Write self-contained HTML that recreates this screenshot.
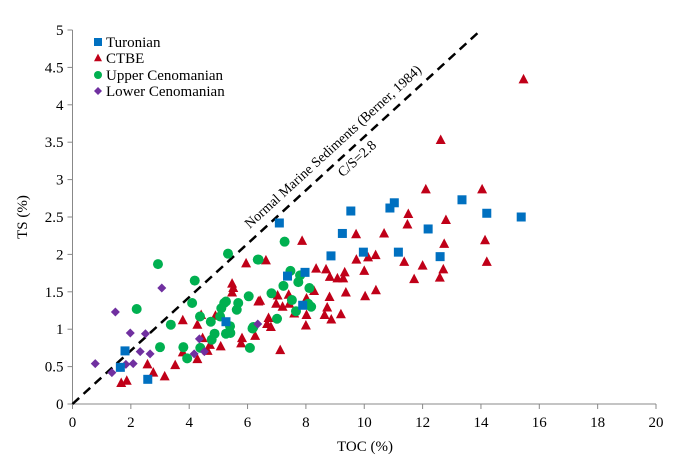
<!DOCTYPE html>
<html><head><meta charset="utf-8"><style>
body{margin:0;background:#fff}
svg{display:block}
svg text{font-family:"Liberation Serif","Times New Roman","DejaVu Serif",serif}
</style></head><body>
<svg id="chart" width="682" height="464"></svg>
<script>
const turonianX=[1.64,1.8,2.58,5.26,7.09,7.37,7.97,7.89,8.86,9.25,9.54,9.97,10.88,11.03,11.17,12.19,12.6,13.35,14.2,15.38];
const turonianY=[0.49,0.71,0.33,1.1,2.42,1.71,1.76,1.32,1.98,2.28,2.58,2.03,2.62,2.69,2.03,2.34,1.97,2.73,2.55,2.5];
const ctbeX=[1.67,1.86,2.57,2.77,3.16,3.52,3.78,4.28,3.78,4.28,4.46,4.41,4.71,4.63,5.08,4.9,5.47,5.51,5.47,5.95,5.81,5.78,6.26,6.37,7.87,9.72,6.63,6.43,7.03,7.41,6.98,7.2,7.43,8.02,8.28,8.35,8.69,8.82,9.08,9.28,9.33,9.73,10.13,10.39,10.0,9.37,8.81,10.03,10.4,8.73,9.2,8.64,8.87,8.02,8.0,7.6,6.72,6.67,6.8,7.12,15.46,12.62,12.11,14.04,11.51,11.48,12.8,10.68,12.74,14.14,14.2,11.37,12.0,12.71,12.59,11.71];
const ctbeY=[0.28,0.31,0.53,0.42,0.37,0.52,1.12,1.06,0.69,0.6,0.88,1.19,0.79,0.71,0.77,1.18,1.61,1.55,1.49,1.88,0.88,0.81,0.91,1.37,2.18,2.27,1.92,1.38,1.45,1.46,1.34,1.3,1.34,1.41,1.51,1.81,1.8,1.7,1.68,1.68,1.76,1.93,1.96,1.99,1.78,1.49,1.43,1.44,1.52,1.29,1.2,1.19,1.13,1.19,1.05,1.21,1.15,1.07,1.03,0.72,4.34,3.53,2.87,2.87,2.54,2.4,2.46,2.28,2.14,2.19,1.9,1.9,1.85,1.8,1.69,1.67];
const upperX=[2.93,2.2,4.19,5.33,4.1,3.37,3.0,3.8,3.93,4.37,4.38,4.74,4.87,4.77,5.06,5.1,5.2,5.26,5.68,5.63,6.04,5.4,5.26,5.41,6.08,6.17,6.35,7.27,6.38,7.47,7.8,7.74,7.23,8.12,6.82,7.52,8.08,8.18,7.66,7.01,6.2];
const upperY=[1.87,1.27,1.65,2.01,1.35,1.06,0.76,0.76,0.61,1.17,0.75,1.1,0.94,0.86,1.17,1.28,1.35,1.37,1.35,1.26,1.44,1.04,0.94,0.95,0.75,1.01,1.93,2.17,1.93,1.78,1.72,1.63,1.58,1.55,1.48,1.39,1.34,1.3,1.24,1.14,1.03];
const lowerX=[0.78,1.35,1.47,3.06,1.98,2.5,1.82,1.83,2.08,2.32,2.66,4.17,4.35,4.52,6.35];
const lowerY=[0.54,0.42,1.23,1.55,0.95,0.94,0.71,0.53,0.54,0.7,0.67,0.67,0.87,0.7,1.07];
const xTicks=[0,2,4,6,8,10,12,14,16,18,20];
const yTicks=[0,0.5,1,1.5,2,2.5,3,3.5,4,4.5,5];
const ratio=2.8;

const X0=72.5,X1=656,Y0=404,Y1=30;
const sx=v=>X0+v/20*(X1-X0);
const sy=v=>Y0-v/5*(Y0-Y1);
const svg=document.getElementById('chart');
const NS='http://www.w3.org/2000/svg';
function mk(tag,attrs,parent){const e=document.createElementNS(NS,tag);for(const k in attrs)e.setAttribute(k,attrs[k]);if(tag==='text')e.style.fontFamily='"Liberation Serif","Times New Roman","DejaVu Serif",serif';(parent||svg).appendChild(e);return e;}

const ax=mk('line',{x1:X0,y1:Y1,x2:X0,y2:Y0,stroke:'#888','stroke-width':1});


const axx=mk('line',{x1:X0,y1:Y0,x2:X1,y2:Y0,stroke:'#888','stroke-width':1});


xTicks.forEach(t=>{
  mk('line',{x1:sx(t),y1:Y0,x2:sx(t),y2:Y0+5,stroke:'#888'});
  const tx=mk('text',{x:sx(t),y:Y0+23,'text-anchor':'middle','font-size':15,fill:'#000'});
  tx.textContent=t;
  
  
});
yTicks.forEach(t=>{
  mk('line',{x1:X0-5,y1:sy(t),x2:X0,y2:sy(t),stroke:'#888'});
  const tx=mk('text',{x:X0-9,y:sy(t)+5,'text-anchor':'end','font-size':15,fill:'#000'});
  tx.textContent=t;
  
  
});
const xt=mk('text',{x:365,y:451,'text-anchor':'middle','font-size':15});
xt.textContent='TOC (%)';


const yt=mk('text',{x:0,y:0,'text-anchor':'middle','font-size':15,transform:'translate(27,217) rotate(-90)'});
yt.textContent='TS (%)';



const xe=5*ratio;
const rl=mk('line',{x1:sx(0),y1:sy(0),x2:sx(xe),y2:sy(xe/ratio),stroke:'#000','stroke-width':2.5,'stroke-dasharray':'9,6'});


const ang=Math.atan2(sy(0)-sy(1),sx(ratio)-sx(0))*180/Math.PI;
const l1=mk('text',{x:0,y:0,'text-anchor':'middle','font-size':14,transform:`translate(336,150) rotate(${-ang})`});
l1.textContent='Normal Marine Sediments (Berner, 1984)';


const l2=mk('text',{x:0,y:0,'text-anchor':'middle','font-size':14,transform:`translate(360,162) rotate(${-ang})`});
l2.textContent='C/S=2.8';



function square(x,y,s,c){return mk('rect',{x:x-s,y:y-s,width:2*s,height:2*s,fill:c});}
function tri(x,y,s,c){return mk('polygon',{points:`${x},${y-s*1.1} ${x-s},${y+s*0.8} ${x+s},${y+s*0.8}`,fill:c});}
function circ(x,y,s,c){return mk('circle',{cx:x,cy:y,r:s,fill:c});}
function dia(x,y,s,c){return mk('polygon',{points:`${x},${y-s} ${x+s},${y} ${x},${y+s} ${x-s},${y}`,fill:c});}

ctbeX.forEach((v,i)=>{const e=tri(sx(v),sy(ctbeY[i]),5,'#c00018');

});
upperX.forEach((v,i)=>{const e=circ(sx(v),sy(upperY[i]),5,'#00b050');

});
lowerX.forEach((v,i)=>{const e=dia(sx(v),sy(lowerY[i]),4.5,'#7030a0');

});
turonianX.forEach((v,i)=>{const e=square(sx(v),sy(turonianY[i]),4.5,'#0070c0');

});

const lg=[['Turonian',square,'#0070c0',42],['CTBE',tri,'#c00018',58],['Upper Cenomanian',circ,'#00b050',75],['Lower Cenomanian',dia,'#7030a0',91]];
lg.forEach(([name,f,c,y])=>{
  const m=f(98,y,4,c);
  
  
  const t=mk('text',{x:106,y:y+5,'font-size':15});
  t.textContent=name;
  
  
});
</script>
</body></html>
